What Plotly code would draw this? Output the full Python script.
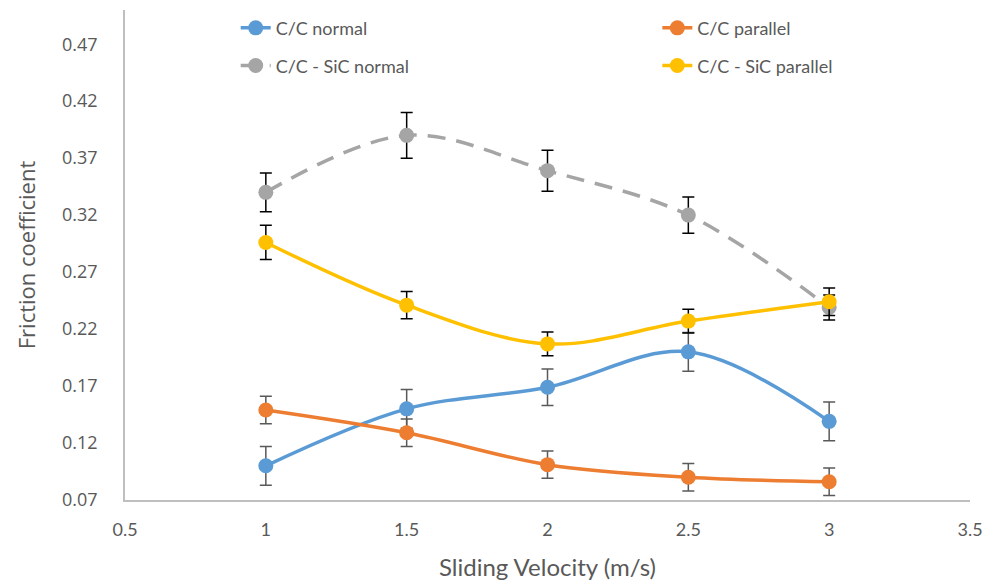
import plotly.graph_objects as go

velocity = [1, 1.5, 2, 2.5, 3]

cc_normal = [0.100, 0.150, 0.169, 0.200, 0.139]
cc_normal_err = [0.017, 0.017, 0.016, 0.017, 0.017]

cc_parallel = [0.149, 0.129, 0.101, 0.090, 0.086]
cc_parallel_err = [0.012, 0.012, 0.012, 0.012, 0.012]

ccsic_normal = [0.340, 0.390, 0.359, 0.320, 0.239]
ccsic_normal_err = [0.017, 0.020, 0.018, 0.016, 0.011]

ccsic_parallel = [0.296, 0.241, 0.207, 0.227, 0.244]
ccsic_parallel_err = [0.015, 0.012, 0.0105, 0.0105, 0.012]

y_ticks = [0.07, 0.12, 0.17, 0.22, 0.27, 0.32, 0.37, 0.42, 0.47]
x_ticks = [0.5, 1, 1.5, 2, 2.5, 3, 3.5]

series = [
    ("C/C normal", cc_normal, cc_normal_err, "#5b9bd5", "solid", "#595959", "legend", 0.131, 0.963),
    ("C/C parallel", cc_parallel, cc_parallel_err, "#ed7d31", "solid", "#595959", "legend2", 0.630, 0.963),
    ("C/C - SiC normal", ccsic_normal, ccsic_normal_err, "#a5a5a5", "dash", "#000000", "legend3", 0.131, 0.886),
    ("C/C - SiC parallel", ccsic_parallel, ccsic_parallel_err, "#ffc000", "solid", "#000000", "legend4", 0.630, 0.886),
]

fig = go.Figure()
legends = {}
for name, vals, errs, color, dash, ecolor, leg, lx, ly in series:
    fig.add_trace(go.Scatter(
        x=velocity, y=vals, name=name, mode="lines+markers", legend=leg,
        line=dict(color=color, width=3.5, shape="spline", smoothing=1,
                  dash=("18px,11px" if dash == "dash" else "solid")),
        marker=dict(color=color, size=15),
        error_y=dict(type="data", array=errs, visible=True, color=ecolor, thickness=1.5, width=6),
    ))
    legends[leg] = dict(
        x=lx, y=ly, xanchor="left", yanchor="middle", orientation="h",
        font=dict(size=18, color="#595959", family="Lato, sans-serif"),
        bgcolor="rgba(0,0,0,0)",
    )

fig.update_layout(
    width=993, height=586,
    margin=dict(l=125, r=23, t=10, b=86, autoexpand=False),
    paper_bgcolor="white", plot_bgcolor="white",
    font=dict(family="Lato, Open Sans, sans-serif", color="#595959"),
    showlegend=True,
    xaxis=dict(
        range=[0.5, 3.5], tickvals=x_ticks, ticktext=[str(v) for v in x_ticks],
        showgrid=False, zeroline=False, showline=True, linecolor="#bfbfbf", linewidth=1.5,
        ticks="", ticklabelstandoff=13,
        tickfont=dict(size=18, color="#595959", family="Lato, sans-serif"),
        title=dict(text="Sliding Velocity (m/s)", font=dict(size=24, color="#595959", family="Lato, sans-serif"), standoff=20),
    ),
    yaxis=dict(
        range=[0.07, 0.5], tickvals=y_ticks, ticktext=[f"{v:.2f}" for v in y_ticks],
        showgrid=False, zeroline=False, showline=True, linecolor="#bfbfbf", linewidth=1.5,
        ticks="", ticklabelstandoff=22,
        tickfont=dict(size=18, color="#595959", family="Open Sans, sans-serif"),
        title=dict(text="Friction coefficient", font=dict(size=22, color="#595959", family="Open Sans, sans-serif"), standoff=20),
    ),
    **legends,
)

fig.write_html("out.html")
